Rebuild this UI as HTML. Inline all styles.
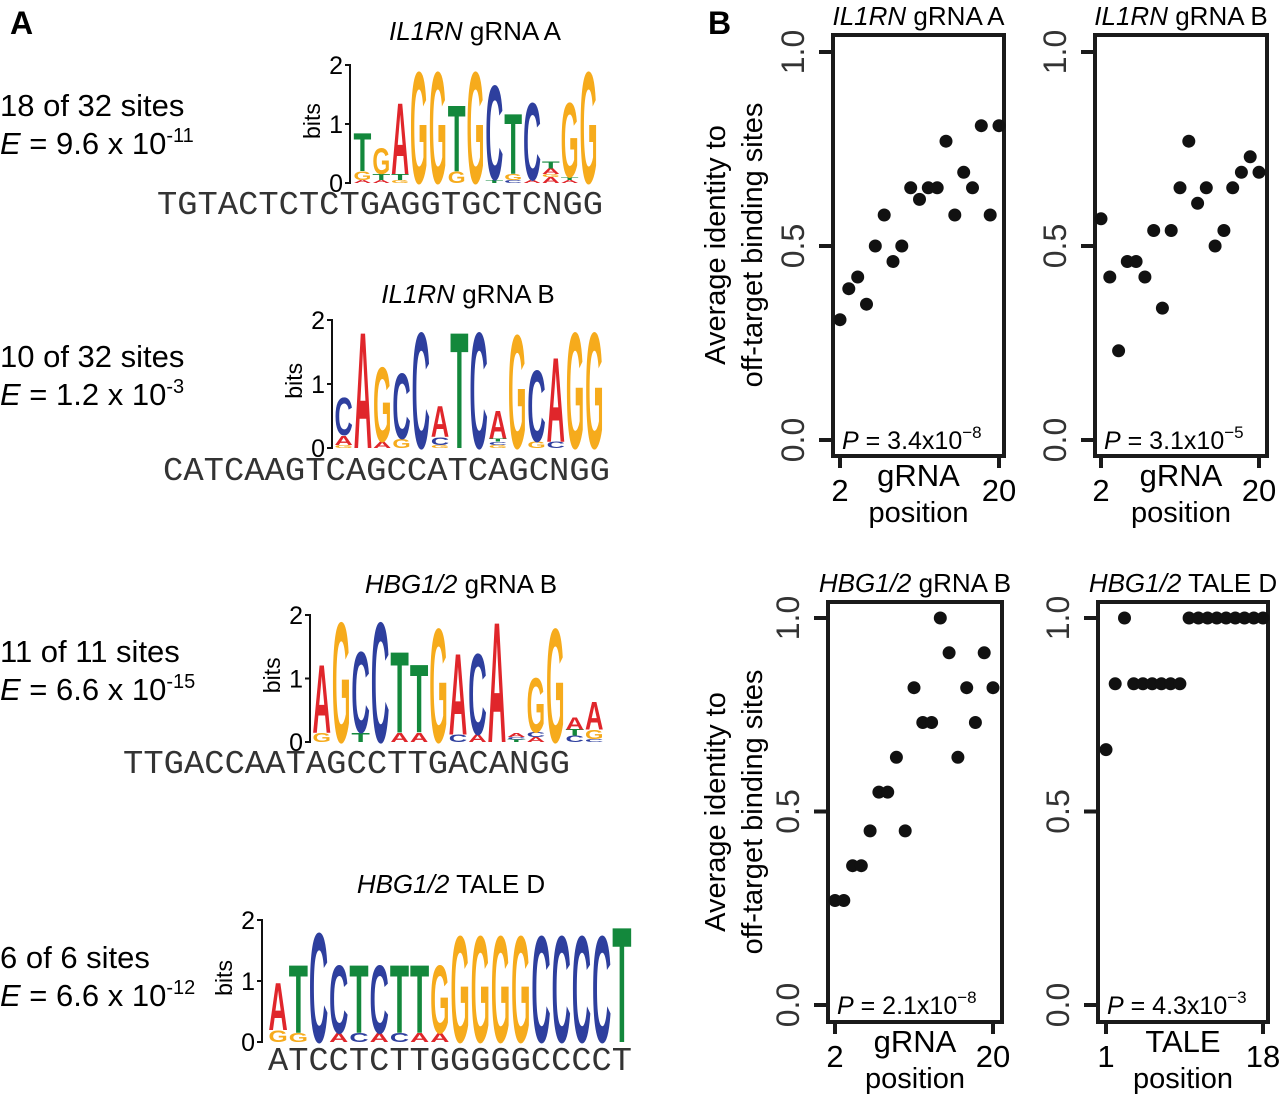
<!DOCTYPE html>
<html><head><meta charset="utf-8">
<style>
html,body{margin:0;padding:0;background:#fff;}
svg{display:block;font-family:"Liberation Sans",Arial,sans-serif;}
.mono{font-family:"Liberation Mono",monospace;}
</style></head>
<body>
<svg id="fig" width="1280" height="1097" viewBox="0 0 1280 1097" xmlns="http://www.w3.org/2000/svg">
<text x="10" y="34" font-size="32" font-weight="bold">A</text>
<text x="708" y="34" font-size="32" font-weight="bold">B</text>

<g font-size="31">
<text x="0" y="116">18 of 32 sites</text>
<text x="0" y="154"><tspan font-style="italic">E</tspan> = 9.6 x 10<tspan font-size="20" dy="-12">-11</tspan></text>
</g>
<g font-size="31">
<text x="0" y="367">10 of 32 sites</text>
<text x="0" y="405"><tspan font-style="italic">E</tspan> = 1.2 x 10<tspan font-size="20" dy="-12">-3</tspan></text>
</g>
<g font-size="31">
<text x="0" y="662">11 of 11 sites</text>
<text x="0" y="700"><tspan font-style="italic">E</tspan> = 6.6 x 10<tspan font-size="20" dy="-12">-15</tspan></text>
</g>
<g font-size="31">
<text x="0" y="968">6 of 6 sites</text>
<text x="0" y="1006"><tspan font-style="italic">E</tspan> = 6.6 x 10<tspan font-size="20" dy="-12">-12</tspan></text>
</g>

<g font-size="26" text-anchor="middle">
<text x="475" y="40"><tspan font-style="italic">IL1RN</tspan> gRNA A</text>
<text x="468" y="303"><tspan font-style="italic">IL1RN</tspan> gRNA B</text>
<text x="461" y="593"><tspan font-style="italic">HBG1/2</tspan> gRNA B</text>
<text x="451" y="893"><tspan font-style="italic">HBG1/2</tspan> TALE D</text>
</g>

<g class="mono" font-size="33" fill="#333">
<text x="157" y="214" textLength="446" lengthAdjust="spacingAndGlyphs">TGTACTCTCTGAGGTGCTCNGG</text>
<text x="163" y="480" textLength="447" lengthAdjust="spacingAndGlyphs">CATCAAGTCAGCCATCAGCNGG</text>
<text x="123" y="773" textLength="447" lengthAdjust="spacingAndGlyphs">TTGACCAATAGCCTTGACANGG</text>
<text x="268" y="1070" textLength="364" lengthAdjust="spacingAndGlyphs">ATCCTCTTGGGGGCCCCT</text>
</g>

<g id="logos"></g>
<g id="plots"></g>
</svg>
<script>
const logo1Columns = [
 [["A",0.05],["G",0.15],["T",0.67]],
 [["A",0.05],["T",0.1],["G",0.45]],
 [["G",0.05],["T",0.1],["A",1.25]],
 [["G",1.95]],
 [["G",1.95]],
 [["G",0.2],["T",1.15]],
 [["G",1.95]],
 [["T",0.06],["C",1.65]],
 [["C",0.05],["G",0.1],["T",1.05]],
 [["A",0.05],["C",1.35]],
 [["A",0.1],["G",0.05],["A",0.1],["T",0.12]],
 [["A",0.05],["T",0.05],["G",1.3]],
 [["G",1.95]]
];
const logo2Columns = [
 [["G",0.05],["A",0.15],["C",0.6]],
 [["A",1.87]],
 [["A",0.1],["G",1.2]],
 [["G",0.15],["C",1.05]],
 [["C",1.87]],
 [["G",0.05],["C",0.12],["A",0.5]],
 [["T",1.87]],
 [["C",1.87]],
 [["G",0.05],["C",0.05],["T",0.05],["A",0.45]],
 [["G",1.83]],
 [["G",0.1],["C",1.15]],
 [["C",0.1],["A",1.36]],
 [["G",1.87]],
 [["G",1.87]]
];
const logo3Columns = [
 [["G",0.15],["A",1.1]],
 [["G",1.95]],
 [["T",0.15],["C",1.32]],
 [["C",1.95]],
 [["A",0.15],["T",1.32]],
 [["A",0.15],["T",1.1]],
 [["G",1.85]],
 [["C",0.12],["A",1.32]],
 [["A",0.12],["C",1.32]],
 [["A",1.95]],
 [["T",0.04],["C",0.04],["A",0.06]],
 [["A",0.08],["C",0.08],["G",0.88]],
 [["G",1.85]],
 [["C",0.1],["T",0.1],["A",0.2]],
 [["C",0.05],["G",0.15],["A",0.45]]
];
const logo4Columns = [
 [["G",0.2],["A",0.8]],
 [["G",0.15],["T",1.15]],
 [["C",1.85]],
 [["A",0.15],["C",1.15]],
 [["C",0.15],["T",1.15]],
 [["A",0.15],["C",1.15]],
 [["C",0.15],["T",1.15]],
 [["A",0.15],["T",1.15]],
 [["A",0.15],["G",1.15]],
 [["G",1.8]],[["G",1.8]],[["G",1.8]],[["G",1.8]],
 [["C",1.8]],[["C",1.8]],[["C",1.8]],[["C",1.8]],
 [["T",1.95]]
];
const bitTicks = ["0","1","2"];

const gPositions = [2,3,4,5,6,7,8,9,10,11,12,13,14,15,16,17,18,19,20];
const talePositions = [1,2,3,4,5,6,7,8,9,10,11,12,13,14,15,16,17,18];
const il1rnA = [0.31,0.39,0.42,0.35,0.50,0.58,0.46,0.50,0.65,0.62,0.65,0.65,0.77,0.58,0.69,0.65,0.81,0.58,0.81];
const il1rnB = [0.57,0.42,0.23,0.46,0.46,0.42,0.54,0.34,0.54,0.65,0.77,0.61,0.65,0.50,0.54,0.65,0.69,0.73,0.69];
const hbgB = [0.27,0.27,0.36,0.36,0.45,0.55,0.55,0.64,0.45,0.82,0.73,0.73,1.00,0.91,0.64,0.82,0.73,0.91,0.82];
const hbgTale = [0.66,0.83,1.00,0.83,0.83,0.83,0.83,0.83,0.83,1.00,1.00,1.00,1.00,1.00,1.00,1.00,1.00,1.00];
const yTickValues = [0.0,0.5,1.0];
const yTickLabels = ["0.0","0.5","1.0"];

const NS="http://www.w3.org/2000/svg";
const COLORS={A:"#e0262b",C:"#2e3f9e",G:"#f6ab1c",T:"#13883c"};
function mk(tag,parent){const e=document.createElementNS(NS,tag);parent.appendChild(e);return e;}

function drawLogo(cols,g,axisX,y0,bitPx,x0,x1,idx){
  const grp=mk("g",g);
  
  
  const ax=mk("path",grp);
  ax.setAttribute("d","M"+(axisX-5)+" "+(y0-2*bitPx)+"H"+axisX+"V"+y0+"H"+(axisX-5)+"M"+axisX+" "+(y0-bitPx)+"H"+(axisX-5));
  ax.setAttribute("stroke","#111");ax.setAttribute("fill","none");ax.setAttribute("stroke-width","2");
  
  
  bitTicks.forEach((t,i)=>{
    const tx=mk("text",grp);tx.textContent=t;
    tx.setAttribute("x",axisX-7);tx.setAttribute("y",y0-i*bitPx+9);
    tx.setAttribute("font-size","25");tx.setAttribute("text-anchor","end");
    
    
  });
  const bl=mk("text",grp);bl.textContent="bits";
  bl.setAttribute("font-size","23");bl.setAttribute("text-anchor","middle");
  bl.setAttribute("transform","translate("+(axisX-30)+","+(y0-1.05*bitPx)+") rotate(-90)");
  
  
  const w=(x1-x0)/cols.length;
  cols.forEach((col,i)=>{
    let yb=y0;
    col.forEach(([L,b])=>{
      const h=b*bitPx;
      const t=mk("text",grp);t.textContent=L;
      t.setAttribute("x",x0+i*w+0.5);
      t.setAttribute("y",yb);
      t.setAttribute("font-size",(h/0.72).toFixed(2));
      t.setAttribute("font-weight","bold");
      t.setAttribute("fill",COLORS[L]);
      t.setAttribute("textLength",(w-1).toFixed(2));
      t.setAttribute("lengthAdjust","spacingAndGlyphs");
      
      
      yb-=h;
    });
  });
}
const lg=document.getElementById("logos");
drawLogo(logo1Columns,lg,350,183,59,353,598,1);
drawLogo(logo2Columns,lg,332,448,64,334,604,2);
drawLogo(logo3Columns,lg,310,742,63.5,312,604,3);
drawLogo(logo4Columns,lg,262,1042,61,268,632,4);

function drawPlot(c){
  const g=mk("g",document.getElementById("plots"));
  
  
  const xS=p=>c.xa+(p-c.p0)*(c.xb-c.xa)/(c.p1-c.p0);
  const yS=v=>c.y0-v*(c.y0-c.y1);
  const box=mk("rect",g);
  box.setAttribute("x",c.L);box.setAttribute("y",c.T);
  box.setAttribute("width",c.R-c.L);box.setAttribute("height",c.B-c.T);
  box.setAttribute("fill","none");box.setAttribute("stroke","#1a1a1a");box.setAttribute("stroke-width","4");
  
  
  yTickValues.forEach((v,i)=>{
    const y=yS(v);
    const tk=mk("line",g);
    tk.setAttribute("x1",c.L-14);tk.setAttribute("x2",c.L);tk.setAttribute("y1",y);tk.setAttribute("y2",y);
    tk.setAttribute("stroke","#1a1a1a");tk.setAttribute("stroke-width","4");
    
    
    const tl=mk("text",g);tl.textContent=yTickLabels[i];
    tl.setAttribute("font-size","32");tl.setAttribute("text-anchor","middle");tl.setAttribute("fill","#333");
    tl.setAttribute("transform","translate("+(c.L-29)+","+y+") rotate(-90)");
    
    
  });
  c.xTicks.forEach(p=>{
    const x=xS(p);
    const tk=mk("line",g);
    tk.setAttribute("x1",x);tk.setAttribute("x2",x);tk.setAttribute("y1",c.B);tk.setAttribute("y2",c.B+12);
    tk.setAttribute("stroke","#1a1a1a");tk.setAttribute("stroke-width","4");
    
    
    const tl=mk("text",g);tl.textContent=String(p);
    tl.setAttribute("x",x);tl.setAttribute("y",c.B+45);tl.setAttribute("font-size","31");tl.setAttribute("text-anchor","middle");
    
    
  });
  const cx=(c.L+c.R)/2;
  const xt=mk("text",g);xt.textContent=c.xTitle;
  xt.setAttribute("x",cx);xt.setAttribute("y",c.B+30);xt.setAttribute("font-size","31");xt.setAttribute("text-anchor","middle");
  
  
  const xt2=mk("text",g);xt2.textContent="position";
  xt2.setAttribute("x",cx);xt2.setAttribute("y",c.B+66);xt2.setAttribute("font-size","29");xt2.setAttribute("text-anchor","middle");
  
  
  const ti=mk("text",g);
  ti.setAttribute("x",cx);ti.setAttribute("y",c.T-10);ti.setAttribute("font-size","26");ti.setAttribute("text-anchor","middle");
  
  
  const t1=mk("tspan",ti);t1.setAttribute("font-style","italic");t1.textContent=c.tItalic;
  const t2=mk("tspan",ti);t2.textContent=" "+c.tRest;
  c.values.forEach((v,i)=>{
    const d=mk("circle",g);
    d.setAttribute("cx",xS(c.positions[i]).toFixed(1));d.setAttribute("cy",yS(v).toFixed(1));d.setAttribute("r","6.5");
    d.setAttribute("fill","#111");
    
    
  });
  const pv=mk("text",g);
  pv.setAttribute("x",c.L+9);pv.setAttribute("y",c.y0+9);pv.setAttribute("font-size","25");
  
  
  const a=mk("tspan",pv);a.setAttribute("font-style","italic");a.textContent="P";
  const b=mk("tspan",pv);b.textContent=" = "+c.pMant+"x10";
  const e=mk("tspan",pv);e.setAttribute("font-size","17");e.setAttribute("dy","-11");e.textContent="\u2212"+c.pExp;
}
drawPlot({name:"plot-il1rn-grna-a",L:833,R:1004,T:35,B:456,y0:440,y1:52,xa:840,xb:999,p0:2,p1:20,positions:gPositions,values:il1rnA,xTicks:[2,20],xTitle:"gRNA",tItalic:"IL1RN",tRest:"gRNA A",pMant:"3.4",pExp:"8"});
drawPlot({name:"plot-il1rn-grna-b",L:1095,R:1267,T:35,B:456,y0:440,y1:52,xa:1101,xb:1259,p0:2,p1:20,positions:gPositions,values:il1rnB,xTicks:[2,20],xTitle:"gRNA",tItalic:"IL1RN",tRest:"gRNA B",pMant:"3.1",pExp:"5"});
drawPlot({name:"plot-hbg-grna-b",L:828,R:1002,T:602,B:1022,y0:1005,y1:618,xa:835,xb:993,p0:2,p1:20,positions:gPositions,values:hbgB,xTicks:[2,20],xTitle:"gRNA",tItalic:"HBG1/2",tRest:"gRNA B",pMant:"2.1",pExp:"8"});
drawPlot({name:"plot-hbg-tale-d",L:1098,R:1268,T:602,B:1022,y0:1005,y1:618,xa:1106,xb:1263,p0:1,p1:18,positions:talePositions,values:hbgTale,xTicks:[1,18],xTitle:"TALE",tItalic:"HBG1/2",tRest:"TALE D",pMant:"4.3",pExp:"3"});

[[245],[812]].forEach(([cy],i)=>{
  const g=mk("g",document.getElementById("plots"));
  
  
  const a=mk("text",g);a.textContent="Average identity to";
  a.setAttribute("font-size","29");a.setAttribute("text-anchor","middle");
  a.setAttribute("transform","translate(725,"+cy+") rotate(-90)");
  const b=mk("text",g);b.textContent="off-target binding sites";
  b.setAttribute("font-size","29");b.setAttribute("text-anchor","middle");
  b.setAttribute("transform","translate(762,"+cy+") rotate(-90)");
});
</script>
</body></html>
